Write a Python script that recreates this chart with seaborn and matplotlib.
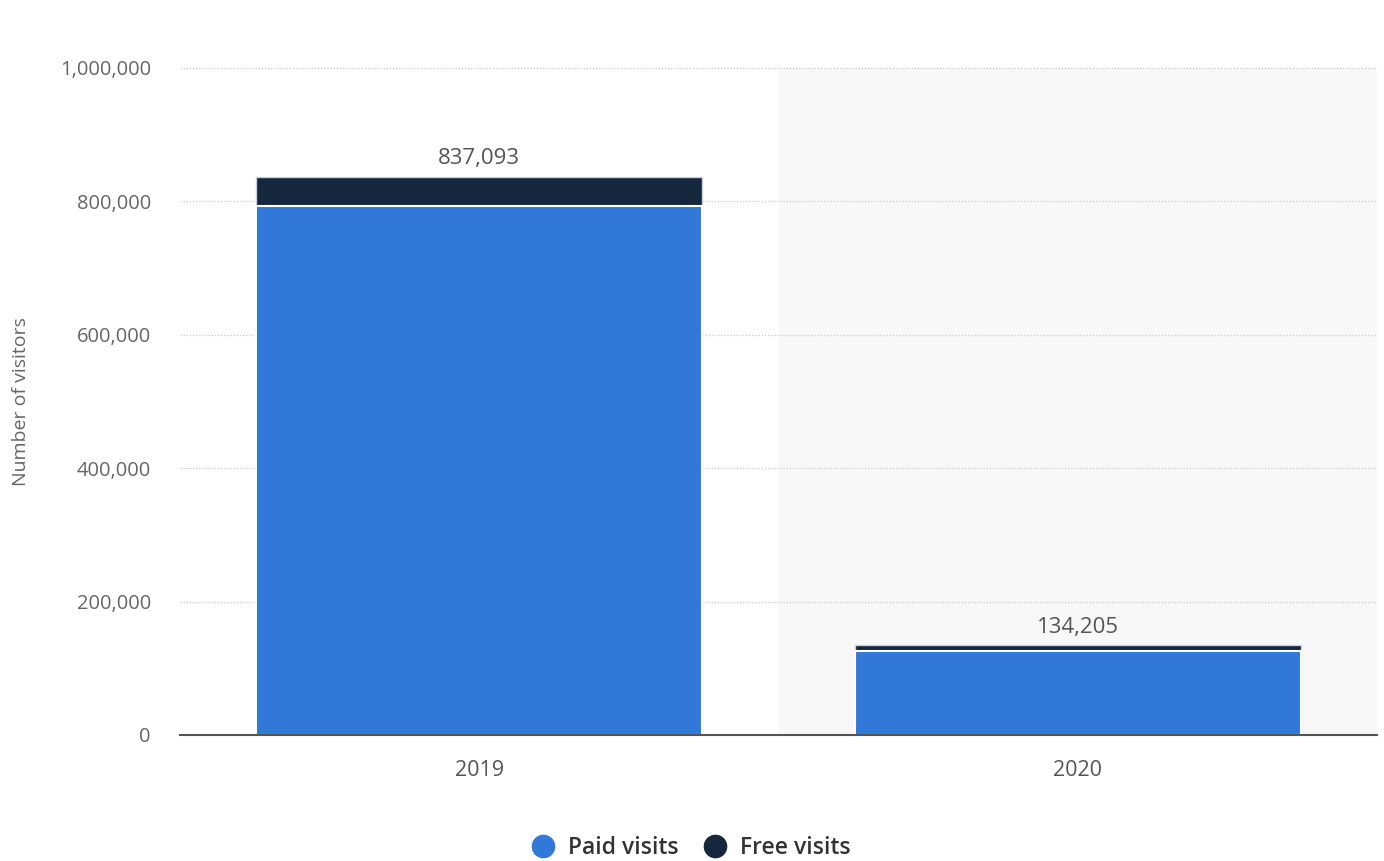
import matplotlib
matplotlib.use("Agg")
import matplotlib.pyplot as plt
from matplotlib.lines import Line2D
import seaborn as sns
import pandas as pd

years = ["2019", "2020"]
paid_visits = [792500, 126000]
free_visits = [44593, 8205]
total_labels = ["837,093", "134,205"]
yticks = [0, 200000, 400000, 600000, 800000, 1000000]

PAID = "#3178d9"
FREE = "#14273d"

sns.set_theme(style="white")
plt.rcParams['font.family'] = ['Open Sans', 'DejaVu Sans']

totals = [p + f for p, f in zip(paid_visits, free_visits)]
df = pd.DataFrame({"year": years, "paid": paid_visits, "total": totals})

fig = plt.figure(figsize=(13.84, 8.61), dpi=100)
ax = fig.add_axes([180/1384, 1-735/861, (1377-180)/1384, (735-68)/861])

# shaded second half
ax.axvspan(0.5, 1.5, color="#f8f8f8", zorder=0, lw=0)

sns.barplot(data=df, x="year", y="total", color=FREE, width=0.745,
            edgecolor="#c9d0d8", linewidth=1, ax=ax, zorder=3, saturation=1)
sns.barplot(data=df, x="year", y="paid", color=PAID, width=0.745,
            edgecolor="white", linewidth=1.5, ax=ax, zorder=4, saturation=1)

ax.set_xlim(-0.5, 1.5)
ax.set_ylim(0, 1000000)
ax.set_yticks(yticks)
ax.set_yticklabels([f"{v:,}" for v in yticks])
ax.yaxis.grid(True, linestyle=(0, (1, 1.5)), color="#c8c8c8", linewidth=0.9, zorder=1)
ax.set_axisbelow(True)
for s in ["top", "right", "left"]:
    ax.spines[s].set_visible(False)
ax.spines["bottom"].set_color("#555555")
ax.spines["bottom"].set_linewidth(1.5)
ax.spines["bottom"].set_zorder(5)

ax.tick_params(axis="y", length=0, pad=21, labelsize=14.5, labelcolor="#666666")
ax.tick_params(axis="x", length=0, pad=18, labelsize=15.5, labelcolor="#555555")
ax.set_xlabel("")
ax.set_ylabel("Number of visitors", fontsize=14, color="#666666")
ax.yaxis.set_label_coords(-0.125, 0.5)

for i, (t, lab) in enumerate(zip(totals, total_labels)):
    ax.text(i, t + 11000, lab, ha="center", va="bottom", fontsize=16, color="#555555", zorder=6)

handles = [Line2D([0], [0], marker="o", color="none", markerfacecolor=PAID, markeredgecolor=PAID, markersize=16),
           Line2D([0], [0], marker="o", color="none", markerfacecolor=FREE, markeredgecolor=FREE, markersize=16)]
leg = fig.legend(handles, ["Paid visits", "Free visits"], loc="center", bbox_to_anchor=(690/1384, 1-848/861),
                 ncol=2, frameon=False, fontsize=16.5, handletextpad=0.5, columnspacing=1.0, handlelength=1.2)
for t in leg.get_texts():
    t.set_color("#333333")
    t.set_fontweight("semibold")

fig.savefig("out.png", dpi=100)
